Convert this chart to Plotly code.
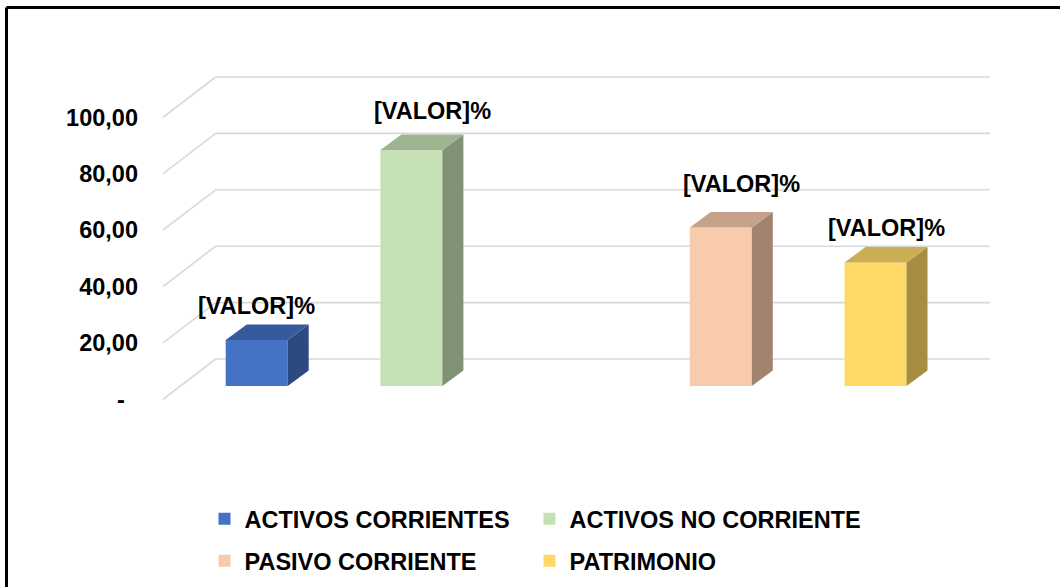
import plotly.graph_objects as go

# ---------------- data ----------------
series_names = ["ACTIVOS CORRIENTES", "ACTIVOS NO CORRIENTE", "PASIVO CORRIENTE", "PATRIMONIO"]
values = [16.3, 83.7, 56.2, 43.8]
slots = [0, 1, 3, 4]                      # slot 2 is empty
label_text = "[VALOR]%"
y_ticks = [0, 20, 40, 60, 80, 100]
y_ticktext = ["-\u00a0\u00a0", "20,00", "40,00", "60,00", "80,00", "100,00"]

# ---------------- style ----------------
front_colors = ["#4472C4", "#C5E0B4", "#F8CBAD", "#FFD966"]
TOP_SHADE, SIDE_SHADE = 0.80, 0.65
FONT = "Liberation Sans, Arial, sans-serif"
FS = 23.5
GRID = "#D9D9D9"

W, H = 1060, 587
ML, MR, MT, MB = 163, 70, 60, 167
PW, PH = W - ML - MR, H - MT - MB
PX_X, PX_Y = 154.7, 2.82            # px per x-unit / y-unit
X0_PX, Y0_PX = 256.7, 386.0         # pixel of x=0 / y=0
x_lo = (ML - X0_PX) / PX_X
x_hi = x_lo + PW / PX_X
y_lo = -((MT + PH) - Y0_PX) / PX_Y
y_hi = (Y0_PX - MT) / PX_Y

BAR_W = 62 / PX_X
DEP_X, DEP_Y = 21 / PX_X, 15.5 / PX_Y          # bar depth
BACK_DY = (Y0_PX - 359.0) / PX_Y               # back wall offset
FRONT_DY = (Y0_PX - 399.3) / PX_Y              # front edge offset
CORNER_X = (215.7 - X0_PX) / PX_X

label_dx = [0, 21, 21, 11]       # px
label_dy = [34, 39, 44, 34]      # px above front top


def shade(hexc, f):
    h = hexc.lstrip("#")
    r, g, b = (int(h[i:i + 2], 16) for i in (0, 2, 4))
    return "rgb(%d,%d,%d)" % (round(r * f), round(g * f), round(b * f))


fig = go.Figure()

# gridlines (back wall + left wall diagonals) as shapes below the data
shapes = []
for t in y_ticks:
    shapes.append(dict(type="line", xref="x", yref="y", layer="below",
                       x0=CORNER_X, x1=x_hi, y0=t + BACK_DY, y1=t + BACK_DY,
                       line=dict(color=GRID, width=1.6)))
    shapes.append(dict(type="line", xref="x", yref="y", layer="below",
                       x0=x_lo, x1=CORNER_X, y0=t + FRONT_DY, y1=t + BACK_DY,
                       line=dict(color=GRID, width=1.6)))

# chart border (top and left)
def px2paper_x(p):
    return (p - ML) / PW


def px2paper_y(p):
    return (MT + PH - p) / PH


shapes.append(dict(type="line", xref="paper", yref="paper", layer="above",
                   x0=px2paper_x(6.5), x1=px2paper_x(W + 5), y0=px2paper_y(7.5), y1=px2paper_y(7.5),
                   line=dict(color="black", width=3)))
shapes.append(dict(type="line", xref="paper", yref="paper", layer="above",
                   x0=px2paper_x(6.5), x1=px2paper_x(6.5), y0=px2paper_y(7.5), y1=px2paper_y(H + 5),
                   line=dict(color="black", width=3)))

legend_names = ["legend", "legend2", "legend3", "legend4"]
legend_px = [(204.5, 519), (529.5, 519), (204.5, 561), (529.5, 561)]

annotations = []
for i, (name, v, s, c) in enumerate(zip(series_names, values, slots, front_colors)):
    # front face
    fig.add_trace(go.Bar(x=[s], y=[v], width=BAR_W, name=name, marker=dict(color=c, line=dict(width=0)),
                         legend=legend_names[i], showlegend=True, hoverinfo="skip"))
    l, r = s - BAR_W / 2, s + BAR_W / 2
    # side face
    fig.add_trace(go.Scatter(x=[r, r + DEP_X, r + DEP_X, r, r], y=[0, DEP_Y, v + DEP_Y, v, 0],
                             fill="toself", fillcolor=shade(c, SIDE_SHADE), mode="lines",
                             line=dict(width=0, color=shade(c, SIDE_SHADE)), showlegend=False, hoverinfo="skip"))
    # top face
    fig.add_trace(go.Scatter(x=[l, l + DEP_X, r + DEP_X, r, l], y=[v, v + DEP_Y, v + DEP_Y, v, v],
                             fill="toself", fillcolor=shade(c, TOP_SHADE), mode="lines",
                             line=dict(width=0, color=shade(c, TOP_SHADE)), showlegend=False, hoverinfo="skip"))
    annotations.append(dict(x=s, y=v, xref="x", yref="y", text=label_text, showarrow=False,
                            xanchor="center", yanchor="middle", xshift=label_dx[i], yshift=label_dy[i],
                            font=dict(family=FONT, size=FS, color="black", weight="bold")))

layout_legends = {}
for ln, (lx, ly) in zip(legend_names, legend_px):
    layout_legends[ln] = dict(xref="container", yref="container",
                              x=lx / W, y=1 - ly / H, xanchor="left", yanchor="middle",
                              orientation="h", bgcolor="rgba(0,0,0,0)", borderwidth=0,
                              font=dict(family=FONT, size=FS, color="black", weight="bold"))

fig.update_layout(
    width=W, height=H, autosize=False,
    margin=dict(l=ML, r=MR, t=MT, b=MB, pad=0, autoexpand=False),
    paper_bgcolor="white", plot_bgcolor="white",
    barmode="overlay",
    shapes=shapes, annotations=annotations,
    xaxis=dict(range=[x_lo, x_hi], visible=False, fixedrange=True),
    yaxis=dict(range=[y_lo, y_hi], showgrid=False, zeroline=False, showline=False,
               tickvals=[t + FRONT_DY for t in y_ticks], ticktext=y_ticktext,
               ticks="", ticklabelstandoff=24, automargin=False,
               tickfont=dict(family=FONT, size=FS, color="black", weight="bold"), fixedrange=True),
    **layout_legends,
)

fig.write_html("out.html", config={"displayModeBar": False},
               post_script="document.body.style.margin='0';document.body.style.padding='0';"
                           "document.body.style.overflow='hidden';")
